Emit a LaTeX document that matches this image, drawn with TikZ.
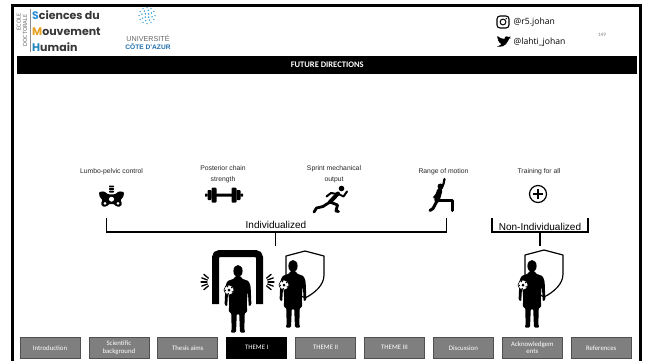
\documentclass[tikz,border=0pt]{standalone}
\usepackage{fontspec}
\setmainfont{Liberation Sans}
\newfontfamily\slidefont{Carlito}
\newfontfamily\logofont{Poppins}
\newfontfamily\handlefont{Open Sans}
\definecolor{navgray}{HTML}{7F7F7F}
\definecolor{navedge}{HTML}{505050}
\definecolor{logoS}{HTML}{2E8FD8}
\definecolor{logoM}{HTML}{E8A020}
\definecolor{logoH}{HTML}{1F85BC}
\definecolor{logotext}{HTML}{383838}
\definecolor{azur}{HTML}{1E6FB0}
\definecolor{azurdot}{HTML}{3AA0DC}
\begin{document}
\begin{tikzpicture}[x=1pt,y=-1pt,
  navbtn/.style={draw=navedge,line width=0.8,fill=navgray,text=white,
    minimum width=60,minimum height=21.5,inner sep=0,align=center,
    font=\slidefont\fontsize{6.8}{7.2}\selectfont},
  navcur/.style={navbtn,fill=black,draw=black},
  toplabel/.style={font=\fontsize{6.8}{11}\selectfont,align=center,text=black!85,inner sep=0},
  bracket/.style={line width=1.3,line cap=rect},
  grouplabel/.style={font=\fontsize{10}{12}\selectfont,inner sep=0},
  shieldpic/.pic={
    \draw[line width=1.2,line join=round,fill=white]
      (0,0) -- (19,5) -- (19,24) .. controls (19,34) and (10,42) .. (0,47)
      .. controls (-10,42) and (-19,34) .. (-19,24) -- (-19,5) -- cycle;
  },
  player/.pic={
    % head
    \fill (0,6) ellipse [x radius=4.6,y radius=6];
    % torso, arms and legs
    \fill[rounded corners=1.2]
      (-3,11) -- (3,11) -- (3.5,13.5) -- (10.5,16) -- (12.6,21) -- (13.4,40)
      -- (10.8,41.5) -- (9.8,25) -- (8.8,38) -- (9.2,47.5) -- (6.8,47.5)
      -- (6.3,65) -- (7.5,67.5) -- (2,67.5) -- (1.2,49) -- (-1.2,49)
      -- (-2,67.5) -- (-7.5,67.5) -- (-6.3,65) -- (-6.8,47.5) -- (-9.2,47.5)
      -- (-8.8,38) -- (-9.8,25) -- (-10.8,41.5) -- (-13.4,40) -- (-12.6,21)
      -- (-10.5,16) -- (-3.5,13.5) -- cycle;
    % ball
    \fill[white] (-9,25) circle (5);
    \draw[line width=0.6] (-9,25) circle (5);
    \fill (-9,25) circle (1.5);
    \foreach \a in {30,102,174,246,318} \fill (-9,25) ++(\a:3.7) circle (0.8);
  }]
\useasboundingbox (0,0) rectangle (646,360);
\fill[white] (0,0) rectangle (646,360);

% slide frame
\draw[line width=2.4] (12.5,362) -- (12.5,5.5) -- (640.5,5.5) -- (640.5,362);

% ---------- header: doctoral school logo ----------
\node[rotate=90,font=\slidefont\fontsize{6.4}{7}\selectfont,text=black!55,inner sep=0] (ecole) at (18.8,22) {ECOLE};
\node[rotate=90,font=\slidefont\fontsize{6.4}{7}\selectfont,text=black!55,inner sep=0] (doct) at (25,30.5) {DOCTORALE};
\draw[black!45,line width=0.6] (29.8,9) -- (29.8,52);
\node[anchor=west,inner sep=0,font=\logofont\bfseries\fontsize{11}{12}\selectfont,text=logotext] (sdu) at (32,15.5) {\textcolor{logoS}{S}ciences du};
\node[anchor=west,inner sep=0,font=\logofont\bfseries\fontsize{11}{12}\selectfont,text=logotext] (mouv) at (32,31.5) {\textcolor{logoM}{M}ouvement};
\node[anchor=west,inner sep=0,font=\logofont\bfseries\fontsize{11}{12}\selectfont,text=logotext] (hum) at (32,47) {\textcolor{logoH}{H}umain};

% ---------- header: university logo ----------
\coordinate (uca) at (147,15.5);
\foreach \a in {0,30,...,330} \fill[azurdot] (uca) ++(\a:8) circle (0.75);
\foreach \a in {15,60,...,330} \fill[azurdot] (uca) ++(\a:5.2) circle (0.85);
\foreach \a in {45,135,225,315} \fill[azurdot] (uca) ++(\a:2.3) circle (0.9);
\node[inner sep=0,font=\fontsize{7.2}{8}\selectfont,text=black!60] (univ) at (148,38.5) {UNIVERSITÉ};
\node[inner sep=0,font=\bfseries\fontsize{6.6}{8}\selectfont,text=azur] (cote) at (148,47) {CÔTE D'AZUR};

% ---------- header: social handles ----------
\draw[line width=1.1,rounded corners=3] (497,16) rectangle (509,28);
\draw[line width=1.0] (503,22) circle (2.9);
\fill (506.3,18.6) circle (0.75);
\node[anchor=west,inner sep=0,font=\handlefont\fontsize{8.6}{10}\selectfont] (insta) at (513.5,22.5) {@r5.johan};
\fill (497,46.5) .. controls (501,47.5) and (506,46) .. (508,41)
  -- (509.2,38.6) -- (511,38) -- (509.7,37.6) -- (510.6,36.4) -- (509,37)
  .. controls (507.5,35.5) and (504.5,36) .. (504.5,39)
  .. controls (501.5,39) and (499,37.5) .. (497.5,36)
  .. controls (497,37.5) and (497.5,39) .. (498.8,39.8) -- (497.8,39.6)
  .. controls (498,41) and (499,42) .. (500,42.3) -- (499,42.4)
  .. controls (499.5,43.5) and (500.5,44) .. (501.5,44)
  .. controls (500.5,45) and (499,46) .. (497,46.5) -- cycle;
\node[anchor=west,inner sep=0,font=\handlefont\fontsize{8.6}{10}\selectfont] (tweet) at (513.5,42.5) {@lahti\_johan};
\node[inner sep=0,font=\slidefont\fontsize{5.2}{6}\selectfont,text=black!50] (pagenum) at (602,35) {149};

% ---------- title bar ----------
\node[fill=black,anchor=north west,minimum width=620,minimum height=18,inner sep=0,
  text=white,font=\slidefont\bfseries\fontsize{8.5}{10}\selectfont] (title) at (17,56) {FUTURE DIRECTIONS};

% ---------- determinant labels ----------
\node[toplabel] (lumbo) at (111.5,171.5) {Lumbo-pelvic control};
\node[toplabel] (chain) at (223,174) {Posterior chain\\strength};
\node[toplabel] (sprint) at (334,174) {Sprint mechanical\\output};
\node[toplabel] (rom) at (443.5,171.5) {Range of motion};
\node[toplabel] (train) at (539,171.5) {Training for all};

% pelvis icon
\foreach \yy in {185.5,188.1,190.7}
  \fill[rounded corners=0.6] (109,\yy) rectangle (114,\yy+1.8);
\fill[rounded corners=1]
  (99,192) -- (104,191.3) -- (108,194.3) -- (115,194.3) -- (119,191.3) -- (124,192)
  -- (123.5,196.5) -- (120.5,200) -- (122,203.5) -- (120.5,206.5) -- (116.5,206.5)
  -- (114,204) -- (109,204) -- (106.5,206.5) -- (102.5,206.5) -- (101,203.5)
  -- (102.5,200) -- (99.5,196.5) -- cycle;
\fill[white] (111.5,199.2) ellipse [x radius=2.6,y radius=2.4];
\fill[white] (105,203.4) circle (1.5);
\fill[white] (118,203.4) circle (1.5);

% dumbbell icon
\fill[rounded corners=0.8] (215.5,193.6) rectangle (232.5,196.6);
\fill[rounded corners=1] (211.5,187.5) rectangle (216.5,202.5);
\fill[rounded corners=1] (231.5,187.5) rectangle (236.5,202.5);
\fill[rounded corners=0.8] (207.5,190) rectangle (211.5,200);
\fill[rounded corners=0.8] (236.5,190) rectangle (240.5,200);
\fill[rounded corners=0.5] (205,193.6) rectangle (207.6,196.6);
\fill[rounded corners=0.5] (240.4,193.6) rectangle (243,196.6);

% sprinter icon
\begin{scope}[line cap=round,line join=round]
  \fill (341.5,188.5) circle (2.8);
  \draw[line width=4] (338,193.5) -- (330,202);
  \draw[line width=2] (338.5,194) -- (343.5,196.5) -- (347,191.5);
  \draw[line width=2] (337,194) -- (331,193) -- (326.5,196.5);
  \draw[line width=2.8] (330,202) -- (337.5,205) -- (336,211) -- (338.5,211.5);
  \draw[line width=2.8] (330,202) -- (323,206.5) -- (316.5,208) -- (314,212);
\end{scope}

% lunge stretch icon
\begin{scope}[line cap=round,line join=round]
  \fill (440.5,186.5) circle (3);
  \draw[line width=2.2] (440,191) -- (443.5,184) -- (444.5,179);
  \draw[line width=5.5] (439.5,191) -- (437,200);
  \draw[line width=2] (438,192.5) -- (434,197.5);
  \draw[line width=3] (437,201) -- (433,208.5) -- (430,210.5);
  \draw[line width=3] (437,200) -- (452.5,200) -- (452.5,210.5);
\end{scope}

% training for all icon
\draw[line width=1.2] (538,194) circle (8.5);
\draw[line width=1.2] (533,194) -- (543,194) (538,189) -- (538,199);

% ---------- grouping brackets ----------
\coordinate (iL) at (106.5,218.5);
\coordinate (iR) at (446.5,218.5);
\coordinate (iBase) at (275.5,232);
\coordinate (iStem) at (275.5,245);
\draw[bracket] (iL) -- (iL |- iBase) -- (iR |- iBase) -- (iR);
\draw[bracket] (iBase) -- (iStem);
\node[grouplabel] (indlab) at (276,225) {Individualized};

\coordinate (nL) at (492,218.5);
\coordinate (nR) at (588,218.5);
\coordinate (nBase) at (540,232);
\coordinate (nStem) at (540,245);
\draw[bracket] (nL) -- (nL |- nBase) -- (nR |- nBase) -- (nR);
\draw[bracket] (nBase) -- (nStem);
\node[grouplabel] (nonlab) at (540,226.5) {Non-Individualized};

% ---------- screening gate with player ----------
\draw[line width=7,rounded corners=4] (215.5,304) -- (215.5,253.5) -- (259.5,253.5) -- (259.5,304);
\begin{scope}[line width=1.3,line cap=round]
  \foreach \a in {140,160,180,200,220}
    \draw (213,282) ++(\a:6) -- ++(\a:6);
  \foreach \a in {-40,-20,0,20,40}
    \draw (262,282) ++(\a:6) -- ++(\a:6);
\end{scope}
\pic at (238,265) {player};

% ---------- protected players ----------
\pic at (305,251) {shieldpic};
\pic at (293,260) {player};
\pic at (544,250) {shieldpic};
\pic at (532,260) {player};

% ---------- navigation bar ----------
\node[navbtn] (nav1) at (50,347.8) {Introduction};
\node[navbtn] (nav2) at (118.9,347.8) {Scientific\\background};
\node[navbtn] (nav3) at (187.8,347.8) {Thesis aims};
\node[navcur] (nav4) at (256.7,347.8) {THEME I};
\node[navbtn] (nav5) at (325.6,347.8) {THEME II};
\node[navbtn] (nav6) at (394.5,347.8) {THEME III};
\node[navbtn] (nav7) at (463.4,347.8) {Discussion};
\node[navbtn] (nav8) at (532.3,347.8) {Acknowledgem\\ents};
\node[navbtn] (nav9) at (601.2,347.8) {References};
\end{tikzpicture}
\end{document}
